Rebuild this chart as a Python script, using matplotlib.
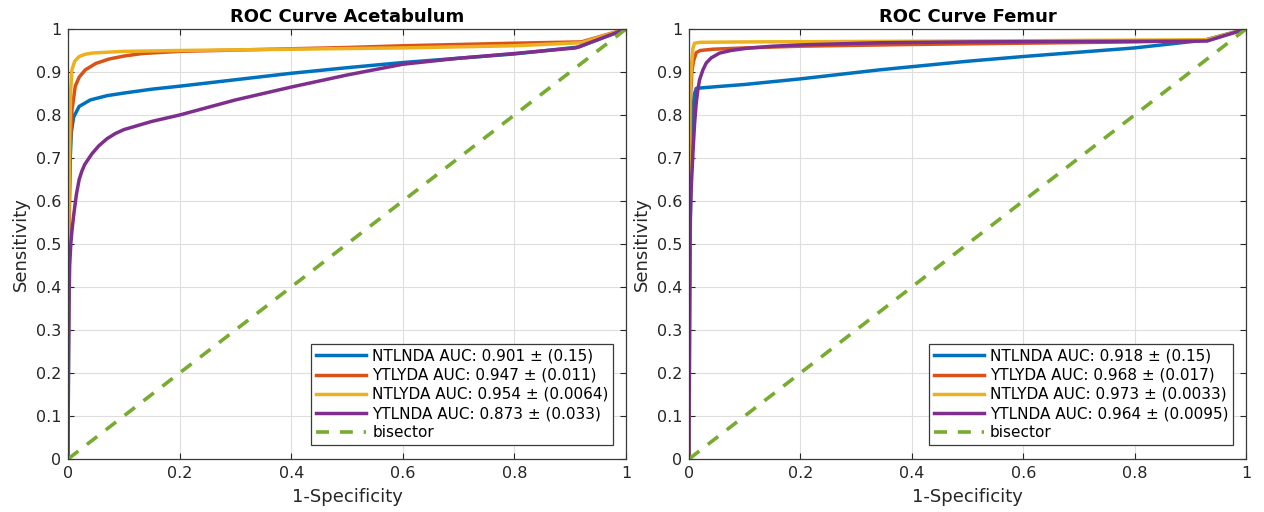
import matplotlib
matplotlib.use("Agg")
import matplotlib.pyplot as plt

plt.rcParams['font.family'] = ['DejaVu Sans']

# ---------------- Data ----------------
titles = ["ROC Curve Acetabulum", "ROC Curve Femur"]
series_names = ["NTLNDA", "YTLYDA", "NTLYDA", "YTLNDA"]
auc_left = ["0.901 ± (0.15)", "0.947 ± (0.011)", "0.954 ± (0.0064)", "0.873 ± (0.033)"]
auc_right = ["0.918 ± (0.15)", "0.968 ± (0.017)", "0.973 ± (0.0033)", "0.964 ± (0.0095)"]

# Acetabulum
ac_ntlnda_fpr = [0, 0.002, 0.004, 0.006, 0.01, 0.02, 0.04, 0.07, 0.1, 0.15, 0.2, 0.3, 0.4, 0.5, 0.6, 0.7, 0.8, 0.915, 1]
ac_ntlnda_tpr = [0, 0.55, 0.70, 0.76, 0.795, 0.82, 0.835, 0.845, 0.851, 0.86, 0.867, 0.882, 0.897, 0.91, 0.922, 0.932, 0.942, 0.958, 1]

ac_ytlyda_fpr = [0, 0.001, 0.003, 0.007, 0.013, 0.02, 0.031, 0.05, 0.073, 0.1, 0.133, 0.2, 0.3, 0.4, 0.5, 0.6, 0.7, 0.8, 0.92, 1]
ac_ytlyda_tpr = [0, 0.4, 0.7, 0.81, 0.867, 0.888, 0.905, 0.92, 0.93, 0.937, 0.943, 0.948, 0.951, 0.954, 0.957, 0.961, 0.964, 0.967, 0.97, 1]

ac_ntlyda_fpr = [0, 0.001, 0.003, 0.005, 0.007, 0.012, 0.02, 0.03, 0.043, 0.07, 0.1, 0.2, 0.4, 0.6, 0.8, 0.92, 1]
ac_ntlyda_tpr = [0, 0.5, 0.75, 0.86, 0.905, 0.925, 0.936, 0.941, 0.944, 0.946, 0.948, 0.95, 0.953, 0.956, 0.961, 0.968, 1]

ac_ytlnda_fpr = [0, 0.001, 0.002, 0.003, 0.005, 0.007, 0.01, 0.015, 0.02, 0.025, 0.03, 0.043, 0.055, 0.07, 0.085, 0.1, 0.15, 0.2, 0.3, 0.4, 0.5, 0.6, 0.7, 0.8, 0.91, 1]
ac_ytlnda_tpr = [0, 0.25, 0.38, 0.45, 0.5, 0.53, 0.565, 0.615, 0.65, 0.67, 0.685, 0.71, 0.728, 0.745, 0.757, 0.766, 0.785, 0.80, 0.835, 0.865, 0.893, 0.918, 0.932, 0.943, 0.956, 1]

# Femur
fe_ntlnda_fpr = [0, 0.002, 0.004, 0.006, 0.01, 0.013, 0.05, 0.1, 0.2, 0.342, 0.5, 0.6, 0.8, 0.925, 1]
fe_ntlnda_tpr = [0, 0.5, 0.72, 0.80, 0.85, 0.862, 0.866, 0.871, 0.884, 0.905, 0.925, 0.936, 0.956, 0.974, 1]

fe_ytlyda_fpr = [0, 0.001, 0.003, 0.005, 0.008, 0.013, 0.02, 0.043, 0.1, 0.2, 0.4, 0.6, 0.8, 0.93, 1]
fe_ytlyda_tpr = [0, 0.6, 0.85, 0.90, 0.925, 0.945, 0.95, 0.953, 0.956, 0.96, 0.964, 0.967, 0.97, 0.974, 1]

fe_ntlyda_fpr = [0, 0.001, 0.002, 0.004, 0.007, 0.01, 0.02, 0.1, 0.5, 0.93, 1]
fe_ntlyda_tpr = [0, 0.7, 0.85, 0.905, 0.955, 0.967, 0.969, 0.97, 0.972, 0.975, 1]

fe_ytlnda_fpr = [0, 0.001, 0.002, 0.004, 0.007, 0.01, 0.013, 0.016, 0.019, 0.025, 0.031, 0.04, 0.055, 0.075, 0.103, 0.15, 0.2, 0.342, 0.5, 0.7, 0.93, 1]
fe_ytlnda_tpr = [0, 0.4, 0.55, 0.63, 0.71, 0.78, 0.828, 0.86, 0.882, 0.905, 0.921, 0.933, 0.944, 0.95, 0.955, 0.96, 0.963, 0.968, 0.97, 0.971, 0.972, 1]

bisector = [0, 1]

x_ticks = [0, 0.2, 0.4, 0.6, 0.8, 1]
x_tick_labels = ["0", "0.2", "0.4", "0.6", "0.8", "1"]
y_ticks = [0, 0.1, 0.2, 0.3, 0.4, 0.5, 0.6, 0.7, 0.8, 0.9, 1]
y_tick_labels = ["0", "0.1", "0.2", "0.3", "0.4", "0.5", "0.6", "0.7", "0.8", "0.9", "1"]

colors = ["#0072BD", "#D95319", "#EDB120", "#7E2F8E"]
bis_color = "#77AC30"

# ---------------- Figure ----------------
fig = plt.figure(figsize=(12.64, 5.12), dpi=100)
ax_l = fig.add_axes([68 / 1264, 53 / 512, 558 / 1264, 430 / 512])
ax_r = fig.add_axes([689 / 1264, 53 / 512, 557 / 1264, 430 / 512])

panels = [
    (ax_l, titles[0], auc_left,
     [(ac_ntlnda_fpr, ac_ntlnda_tpr), (ac_ytlyda_fpr, ac_ytlyda_tpr),
      (ac_ntlyda_fpr, ac_ntlyda_tpr), (ac_ytlnda_fpr, ac_ytlnda_tpr)]),
    (ax_r, titles[1], auc_right,
     [(fe_ntlnda_fpr, fe_ntlnda_tpr), (fe_ytlyda_fpr, fe_ytlyda_tpr),
      (fe_ntlyda_fpr, fe_ntlyda_tpr), (fe_ytlnda_fpr, fe_ytlnda_tpr)]),
]

for ax, title, aucs, curves in panels:
    for (fpr, tpr), name, auc, c in zip(curves, series_names, aucs, colors):
        ax.plot(fpr, tpr, color=c, lw=2.5, label=f"{name} AUC: {auc}")
    ax.plot(bisector, bisector, color=bis_color, lw=2.6, ls=(0, (3.6, 3)), label="bisector")

    ax.set_xlim(0, 1)
    ax.set_ylim(0, 1)
    ax.set_xticks(x_ticks)
    ax.set_xticklabels(x_tick_labels)
    ax.set_yticks(y_ticks)
    ax.set_yticklabels(y_tick_labels)
    ax.grid(True, color="#dedede", lw=0.8)
    ax.set_axisbelow(True)
    ax.tick_params(direction='in', top=True, right=True, length=4.5, width=0.8,
                   labelsize=11.5, colors="#262626", labelcolor="#262626", pad=5)
    for sp in ax.spines.values():
        sp.set_color("#3a3a3a")
        sp.set_linewidth(0.9)
    ax.set_title(title, fontsize=13, fontweight='bold', pad=5)
    ax.set_xlabel("1-Specificity", fontsize=13, color="#262626", labelpad=5)
    ax.set_ylabel("Sensitivity", fontsize=13, color="#262626", labelpad=4)
    leg = ax.legend(loc='lower right', bbox_to_anchor=(0.977, 0.033), fontsize=11,
                    fancybox=False, framealpha=1, edgecolor="#3a3a3a",
                    handlelength=3.3, handletextpad=0.4, labelspacing=0.27,
                    borderpad=0.3, borderaxespad=0.0)
    leg.get_frame().set_linewidth(0.9)

fig.savefig("out.png", dpi=100)
